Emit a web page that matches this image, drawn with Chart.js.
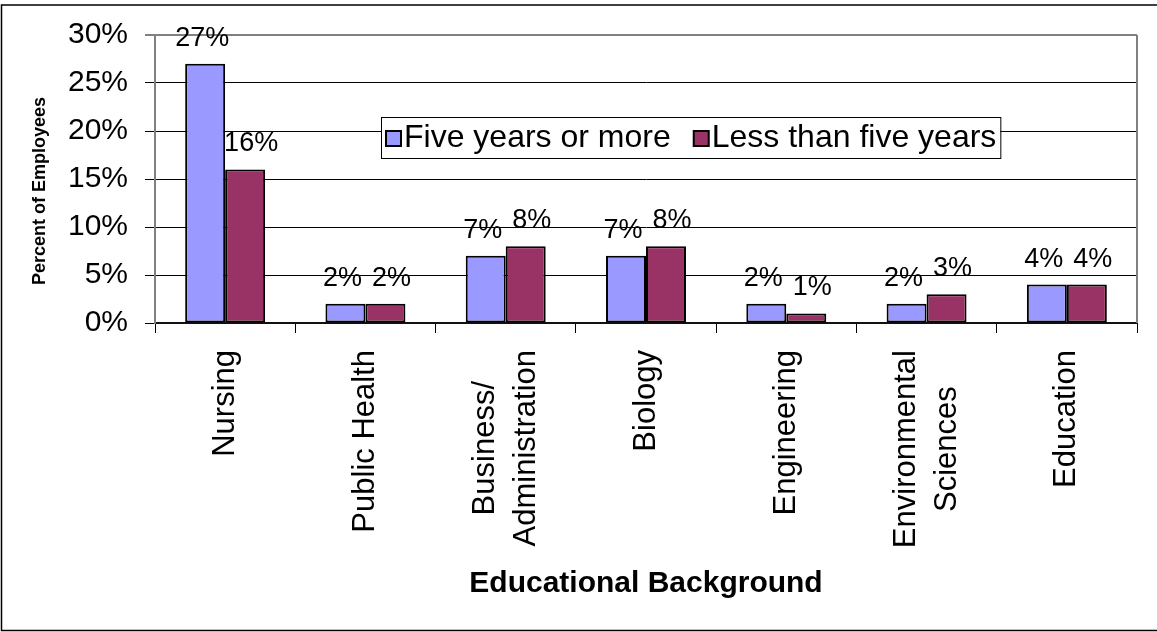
<!DOCTYPE html>
<html>
<head>
<meta charset="utf-8">
<title>Educational Background</title>
<script src="https://cdn.jsdelivr.net/npm/chart.js@4.4.1/dist/chart.umd.min.js"></script>
<style>
  html, body { margin: 0; padding: 0; background: #fff; }
  #grafico { display: block; }
</style>
</head>
<body>
<canvas id="grafico" width="1157" height="632"></canvas>
<script>
// Datos del gráfico
const categorias = [
  ['Nursing'],
  ['Public Health'],
  ['Business/', 'Administration'],
  ['Biology'],
  ['Engineering'],
  ['Environmental', 'Sciences'],
  ['Education']
];
const cincoOMas = [27, 2, 7, 7, 2, 2, 4];
const menosDeCinco = [16, 2, 8, 8, 1, 3, 4];
const nombresSeries = ['Five years or more', 'Less than five years'];
const ticksY = [0, 5, 10, 15, 20, 25, 30];

const FUENTE = '"Liberation Sans", Arial, sans-serif';

// Etiquetas de valor encima de cada barra
const etiquetasBarras = {
  id: 'etiquetasBarras',
  afterDatasetsDraw(chart) {
    const ctx = chart.ctx;
    const desplaz = [-3, 6];
    ctx.save();
    ctx.font = '27px ' + FUENTE;
    ctx.fillStyle = '#000';
    ctx.textAlign = 'center';
    ctx.textBaseline = 'alphabetic';
    chart.data.datasets.forEach((ds, i) => {
      chart.getDatasetMeta(i).data.forEach((bar, j) => {
        ctx.fillText(ds.data[j] + '%', bar.x + desplaz[i], bar.y - 18);
      });
    });
    ctx.restore();
  }
};

// Marco, títulos, etiquetas del eje X y leyenda
const decoracion = {
  id: 'decoracion',
  afterDraw(chart) {
    const ctx = chart.ctx;
    const area = chart.chartArea;
    const escalaX = chart.scales.x;
    ctx.save();

    // borde derecho del área de trazado
    ctx.strokeStyle = '#808080';
    ctx.lineWidth = 2;
    ctx.beginPath();
    ctx.moveTo(area.right, area.top);
    ctx.lineTo(area.right, area.bottom);
    ctx.stroke();

    // etiquetas de categorías (giradas)
    ctx.fillStyle = '#000';
    ctx.font = '31px ' + FUENTE;
    ctx.textBaseline = 'middle';
    const altoLinea = 41;
    categorias.forEach((lineas, i) => {
      const cx = escalaX.getPixelForValue(i);
      const anchoMax = Math.max(...lineas.map(l => ctx.measureText(l).width));
      lineas.forEach((linea, k) => {
        const x = cx + (k - (lineas.length - 1) / 2) * altoLinea;
        ctx.save();
        ctx.translate(x, 350);
        ctx.rotate(-Math.PI / 2);
        ctx.textAlign = 'center';
        ctx.fillText(linea, -anchoMax / 2, 0);
        ctx.restore();
      });
    });

    // título eje Y
    ctx.save();
    ctx.font = 'bold 18px ' + FUENTE;
    ctx.textAlign = 'center';
    ctx.textBaseline = 'middle';
    ctx.translate(40, 191);
    ctx.rotate(-Math.PI / 2);
    ctx.fillText('Percent of Employees', 0, 0);
    ctx.restore();

    // título eje X
    ctx.font = 'bold 30px ' + FUENTE;
    ctx.textAlign = 'center';
    ctx.textBaseline = 'middle';
    ctx.fillText('Educational Background', (area.left + area.right) / 2, 584);

    // leyenda
    ctx.font = '32px ' + FUENTE;
    const caja = { x: 381, y: 117, h: 41 };
    const lado = 15;
    const anchos = nombresSeries.map(n => ctx.measureText(n).width);
    let anchoTotal = 5;
    anchos.forEach((w, i) => { anchoTotal += lado + 7 + w + (i < anchos.length - 1 ? 19 : 0); });
    ctx.fillStyle = '#fff';
    ctx.fillRect(caja.x, caja.y, anchoTotal, caja.h);
    ctx.strokeStyle = '#000';
    ctx.lineWidth = 1;
    ctx.strokeRect(caja.x + 0.5, caja.y + 0.5, anchoTotal, caja.h);
    let x = caja.x + 5;
    const yMedio = caja.y + caja.h / 2 + 1;
    chart.data.datasets.forEach((ds, i) => {
      ctx.fillStyle = ds.backgroundColor;
      ctx.fillRect(x, yMedio - lado / 2, lado, lado);
      ctx.strokeStyle = '#000';
      ctx.lineWidth = 2;
      ctx.strokeRect(x, yMedio - lado / 2, lado, lado);
      ctx.fillStyle = '#000';
      ctx.textAlign = 'left';
      ctx.textBaseline = 'middle';
      ctx.fillText(ds.label, x + lado + 3, yMedio);
      x += lado + 7 + anchos[i] + 19;
    });

    // borde exterior
    ctx.strokeStyle = '#000';
    ctx.lineWidth = 1.5;
    ctx.strokeRect(1.5, 5, 1170, 625.5);
    ctx.restore();
  }
};

new Chart(document.getElementById('grafico'), {
  type: 'bar',
  data: {
    labels: categorias.map(c => c.join(' ')),
    datasets: [{
      label: nombresSeries[0],
      data: cincoOMas,
      backgroundColor: '#9999FF',
      borderColor: '#000',
      borderWidth: 2,
      borderSkipped: false,
      categoryPercentage: 0.57,
      barPercentage: 1
    }, {
      label: nombresSeries[1],
      data: menosDeCinco,
      backgroundColor: '#993366',
      borderColor: '#000',
      borderWidth: 2,
      borderSkipped: false,
      categoryPercentage: 0.57,
      barPercentage: 1
    }]
  },
  options: {
    responsive: false,
    animation: false,
    devicePixelRatio: 1,
    layout: { padding: { top: 34, right: 20, left: 0, bottom: 0 } },
    plugins: {
      legend: { display: false },
      tooltip: { enabled: false }
    },
    scales: {
      x: {
        afterFit: s => { s.height = 632 - 323; },
        grid: {
          offset: true,
          drawOnChartArea: false,
          tickLength: 10,
          color: '#000',
          lineWidth: 1
        },
        border: { color: '#111', width: 2 },
        ticks: { display: false }
      },
      y: {
        min: 0,
        max: 30,
        afterFit: s => { s.width = 155; },
        afterBuildTicks: s => { s.ticks = ticksY.map(v => ({ value: v })); },
        grid: {
          tickLength: 10,
          color: c => (c.tick && c.tick.value === 30 ? '#808080' : '#000'),
          lineWidth: c => (c.tick && c.tick.value === 30 ? 2 : 1)
        },
        border: { color: '#808080', width: 2 },
        ticks: {
          padding: 17,
          color: '#000',
          font: { family: FUENTE, size: 30 },
          callback: v => v + '%'
        }
      }
    }
  },
  plugins: [etiquetasBarras, decoracion]
});
</script>
</body>
</html>
